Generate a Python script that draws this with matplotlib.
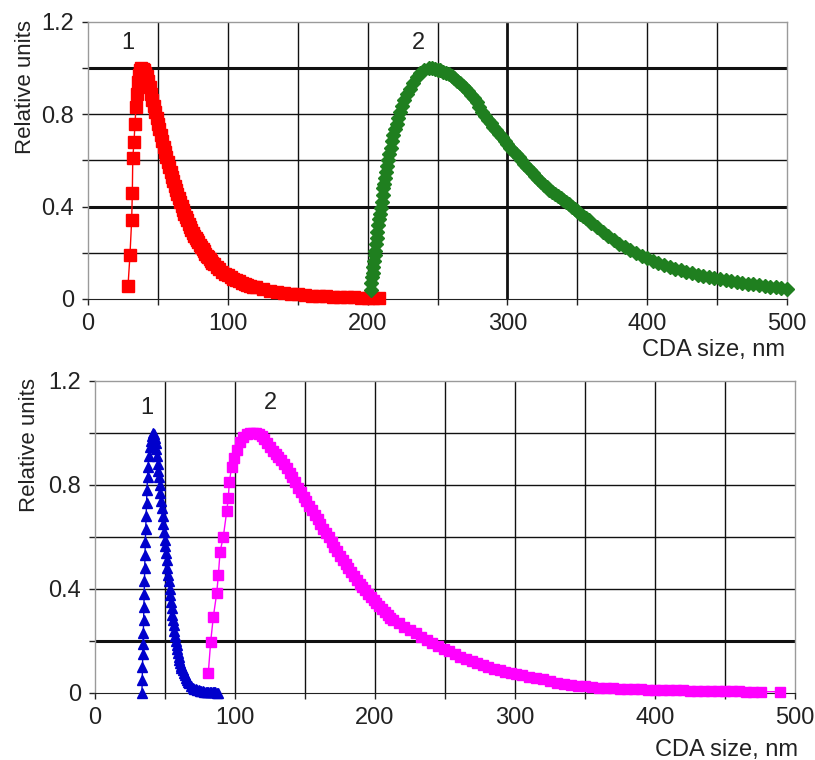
import numpy as np
import matplotlib
matplotlib.use("Agg")
import matplotlib.pyplot as plt

plt.rcParams['font.family'] = ['Liberation Sans', 'DejaVu Sans']

# --- upper panel: distributions 1 (red) and 2 (green) ---
red_x = [28.6, 30.0, 31.2, 31.7, 32.0, 32.9, 33.6, 34.3, 35.0, 35.7, 36.4, 37.2,
         38, 39, 40, 41, 42, 43, 44, 45, 46, 47, 48, 49, 50, 51, 52, 53, 54, 55,
         56, 57, 58, 59, 60, 61, 62, 63, 64, 65, 66, 67, 68, 69, 70, 71, 72, 73,
         74, 75, 76, 77, 78, 79, 80, 81, 82, 83, 84, 85, 86, 87, 88, 89, 90,
         92, 94, 96, 98, 100, 102, 104, 106, 108, 110, 112, 114, 116, 118, 120,
         125, 130, 135, 140, 145, 150, 155, 160, 165, 170, 175, 180, 185, 190,
         195, 200, 204, 208]
red_y = [0.056, 0.19, 0.34, 0.46, 0.61, 0.68, 0.76, 0.83, 0.89, 0.94, 0.97, 0.99,
         1.000, 0.998, 0.99, 0.98, 0.965, 0.945, 0.92, 0.89, 0.86, 0.835, 0.81,
         0.785, 0.76, 0.735, 0.71, 0.685, 0.66, 0.637, 0.615, 0.592, 0.57, 0.55,
         0.53, 0.51, 0.49, 0.472, 0.455, 0.437, 0.42, 0.402, 0.385, 0.37, 0.355,
         0.34, 0.325, 0.312, 0.30, 0.287, 0.275, 0.265, 0.255, 0.245, 0.235,
         0.225, 0.215, 0.206, 0.197, 0.188, 0.18, 0.172, 0.165, 0.158, 0.152,
         0.140, 0.129, 0.119, 0.110, 0.102, 0.095, 0.088, 0.082, 0.076, 0.071,
         0.066, 0.061, 0.057, 0.053, 0.050, 0.042, 0.036, 0.031, 0.027, 0.023,
         0.020, 0.017, 0.015, 0.013, 0.011, 0.010, 0.0085, 0.0075, 0.0065,
         0.0058, 0.0050, 0.0045, 0.004]

green_x = [202.3, 202.7, 203.1, 203.6, 204.1, 204.6, 205.0, 205.5, 206.0, 206.5,
           207.0, 207.6, 208.2, 208.9, 209.5, 210.1, 210.7, 211.3, 211.9, 212.5,
           213.1, 213.7, 214.6, 215.6, 216.4, 217.3, 218.4, 219.6, 220.8, 222.0,
           223.2, 224.4, 226.1, 228.0, 230.2, 232.7, 235.0, 237.5, 240.5,
           244, 246, 248, 250, 252, 254, 256, 258, 260, 262, 264, 266, 268, 270,
           272, 274, 276, 278, 280, 282, 284, 286, 288, 290, 292, 294, 296, 298,
           300, 302, 304, 306, 308, 310, 312, 314, 316, 318, 320, 322, 324, 326,
           328, 330, 332, 334, 336, 338, 340, 342, 344, 346, 348, 350, 352, 354,
           356, 358, 360, 364, 368, 372, 376, 380, 384, 388, 392, 396, 400, 404,
           408, 412, 416, 420, 424, 428, 432, 436, 440, 444, 448, 452, 456, 460,
           464, 468, 472, 476, 480, 484, 488, 492, 496, 500]
green_y = [0.04, 0.07, 0.095, 0.114, 0.14, 0.165, 0.19, 0.21, 0.24, 0.265,
           0.29, 0.32, 0.345, 0.37, 0.395, 0.42, 0.45, 0.48, 0.50, 0.525,
           0.55, 0.576, 0.60, 0.626, 0.655, 0.684, 0.71, 0.735, 0.76, 0.785,
           0.81, 0.835, 0.86, 0.886, 0.91, 0.936, 0.96, 0.98, 0.993,
           1.000, 0.999, 0.997, 0.994, 0.990, 0.985, 0.980, 0.973, 0.965, 0.956,
           0.946, 0.935, 0.924, 0.912, 0.899, 0.885, 0.871, 0.852, 0.832, 0.812,
           0.792, 0.776, 0.761, 0.745, 0.730, 0.715, 0.700, 0.685, 0.670, 0.655,
           0.641, 0.627, 0.613, 0.600, 0.586, 0.572, 0.559, 0.545, 0.532, 0.519,
           0.507, 0.495, 0.484, 0.473, 0.463, 0.455, 0.447, 0.439, 0.430, 0.420,
           0.410, 0.400, 0.390, 0.380, 0.370, 0.360, 0.350, 0.340, 0.330, 0.310,
           0.292, 0.274, 0.256, 0.240, 0.225, 0.211, 0.198, 0.187, 0.176, 0.166,
           0.157, 0.148, 0.140, 0.132, 0.124, 0.117, 0.111, 0.105, 0.099, 0.094,
           0.090, 0.086, 0.082, 0.077, 0.073, 0.069, 0.066, 0.063, 0.060, 0.057,
           0.054, 0.051, 0.048, 0.045]

# --- lower panel: distributions 1 (blue) and 2 (magenta) ---
blue_x = [33.5, 33.7, 33.9, 34.1, 34.3, 34.5, 34.7, 34.9, 35.1, 35.3, 35.5, 35.7,
          35.9, 36.2, 36.5, 36.8, 37.1, 37.5, 37.9, 38.4, 39.0, 39.7, 40.6, 41.7,
          42.2, 42.7, 43.2, 43.7, 44.2, 44.7, 45.2, 45.7, 46.2, 46.7, 47.2, 47.7,
          48.2, 48.7, 49.2, 49.7, 50.2, 50.7, 51.2, 51.7, 52.2, 52.7, 53.2, 53.7,
          54.2, 54.7, 55.2, 55.7, 56.2, 56.7, 57.2, 57.7, 58.2, 58.7, 59.2, 59.7,
          60.2, 60.7, 61.2, 61.7, 62.5, 63.3, 64.0, 64.8, 65.5, 66.3, 67.0, 68.5,
          70, 71, 72, 73, 74, 75, 76, 77, 78, 79, 80, 81, 82, 83, 84, 85, 86, 87, 88]
blue_y = [0.0, 0.05, 0.10, 0.15, 0.19, 0.23, 0.28, 0.33, 0.38, 0.43, 0.48, 0.53,
          0.58, 0.63, 0.68, 0.73, 0.78, 0.83, 0.87, 0.91, 0.945, 0.97, 0.99, 1.0,
          0.995, 0.98, 0.96, 0.94, 0.91, 0.88, 0.855, 0.83, 0.80, 0.77, 0.74, 0.71,
          0.68, 0.65, 0.62, 0.59, 0.565, 0.54, 0.51, 0.48, 0.455, 0.43, 0.40, 0.375,
          0.35, 0.325, 0.30, 0.28, 0.26, 0.24, 0.22, 0.20, 0.185, 0.17, 0.155, 0.14,
          0.127, 0.115, 0.105, 0.095, 0.088, 0.077, 0.068, 0.059, 0.05, 0.043,
          0.037, 0.027, 0.02, 0.017, 0.014, 0.012, 0.01, 0.008, 0.007, 0.006,
          0.005, 0.0045, 0.004, 0.0035, 0.003, 0.0025, 0.002, 0.002, 0.002,
          0.0015, 0.001]

magenta_x = [80.9, 82.6, 84.5, 86.9, 88.1, 89.3, 91.6, 94.1, 95.2, 95.9, 97.6,
             99.5, 101.2, 103.5, 105.9, 108.5, 111, 113, 115, 117, 119, 121, 123,
             125, 127, 129, 131, 133, 135, 137, 139, 141, 143, 145, 147, 149, 151,
             153, 155, 157, 159, 161, 163, 165, 167, 169, 171, 173, 175, 177, 179,
             181, 183, 185, 187, 189, 191, 193, 195, 197, 199, 201, 203, 205, 207,
             209, 211, 213, 217, 221, 225, 229, 233, 237, 241, 245, 249, 253, 257,
             261, 265, 269, 273, 277, 281, 285, 289, 293, 297, 301, 305, 310, 315,
             320, 325, 330, 335, 340, 345, 350, 355, 360, 365, 370, 375, 380, 385,
             390, 395, 400, 405, 410, 415, 420, 425, 430, 435, 440, 445, 450, 455,
             460, 465, 470, 476, 489]
magenta_y = [0.076, 0.197, 0.293, 0.383, 0.454, 0.543, 0.60, 0.70, 0.75, 0.81,
             0.87, 0.905, 0.935, 0.965, 0.986, 0.996, 1.0, 1.0, 0.999, 0.995,
             0.987, 0.975, 0.961, 0.945, 0.932, 0.92, 0.908, 0.895, 0.881, 0.865,
             0.848, 0.83, 0.81, 0.79, 0.772, 0.755, 0.738, 0.72, 0.702, 0.685,
             0.668, 0.65, 0.632, 0.615, 0.598, 0.58, 0.562, 0.545, 0.527, 0.51,
             0.495, 0.48, 0.465, 0.45, 0.435, 0.42, 0.407, 0.395, 0.382, 0.37,
             0.357, 0.345, 0.333, 0.322, 0.311, 0.30, 0.29, 0.282, 0.268, 0.255,
             0.242, 0.229, 0.216, 0.204, 0.193, 0.182, 0.171, 0.16, 0.149, 0.139,
             0.13, 0.122, 0.114, 0.106, 0.099, 0.093, 0.087, 0.082, 0.078, 0.074,
             0.069, 0.063, 0.057, 0.052, 0.046, 0.040, 0.035, 0.031, 0.028, 0.025,
             0.023, 0.021, 0.019, 0.018, 0.017, 0.016, 0.015, 0.014, 0.013, 0.012,
             0.011, 0.0105, 0.010, 0.0095, 0.009, 0.0085, 0.008, 0.0075, 0.007,
             0.0065, 0.006, 0.006, 0.0055, 0.005, 0.005, 0.005]

x_ticks = [0, 100, 200, 300, 400, 500]
y_ticks = [0, 0.4, 0.8, 1.2]

FS = 17


def setup_axes(ax, thick_y, thick_x):
    ax.set_xlim(0, 500)
    ax.set_ylim(0, 1.2)
    ax.set_xticks(np.arange(0, 501, 50))
    ax.set_xticklabels([str(v) if v in x_ticks else '' for v in range(0, 501, 50)])
    ax.set_yticks(np.arange(0, 1.21, 0.2))
    ax.set_yticklabels([('%g' % v) if any(abs(v - t) < 1e-6 for t in y_ticks) else ''
                        for v in np.arange(0, 1.21, 0.2)])
    ax.tick_params(labelsize=FS, direction='out', length=4, width=1,
                   colors='#222222', pad=6)
    for v in np.arange(50, 500, 50):
        lw = 2.0 if v in thick_x else 1.0
        ax.axvline(v, color='#111111', lw=lw, zorder=0)
    for v in np.arange(0.2, 1.2, 0.2):
        lw = 2.2 if any(abs(v - t) < 1e-6 for t in thick_y) else 1.0
        ax.axhline(v, color='#111111', lw=lw, zorder=0)
    for s in ['top', 'right', 'left']:
        ax.spines[s].set_color('#9a9a9a')
        ax.spines[s].set_linewidth(1.0)
    ax.spines['bottom'].set_color('#222222')


fig = plt.figure(figsize=(8.15, 7.6), dpi=100)

ax1 = fig.add_axes([0.108, 0.6066, 0.8577, 0.3645])
setup_axes(ax1, thick_y=[1.0, 0.4], thick_x=[300])
ax1.plot(red_x, red_y, color='#ff0000', marker='s', ms=8, lw=1,
         mec='#ff0000', zorder=3, clip_on=False)
ax1.plot(green_x, green_y, color='#1f7f1f', marker='D', ms=6.8, lw=1,
         mec='#1f7f1f', zorder=3, clip_on=False)
ax1.text(28.6, 1.11, '1', fontsize=FS, ha='center', va='center', color='#222222')
ax1.text(236, 1.11, '2', fontsize=FS, ha='center', va='center', color='#222222')

ax2 = fig.add_axes([0.1166, 0.0882, 0.8589, 0.4105])
setup_axes(ax2, thick_y=[0.2], thick_x=[])
ax2.plot(blue_x, blue_y, color='#0000cc', marker='^', ms=7.8, lw=1,
         mec='#0000cc', zorder=3, clip_on=False)
ax2.plot(magenta_x, magenta_y, color='#ff00ff', marker='s', ms=7.8, lw=1,
         mec='#ff00ff', zorder=3, clip_on=False)
ax2.text(37, 1.096, '1', fontsize=FS, ha='center', va='center', color='#222222')
ax2.text(125, 1.115, '2', fontsize=FS, ha='center', va='center', color='#222222')

fig.text(0.0307, 0.8855, 'Relative units', rotation=90, fontsize=FS - 1,
         ha='center', va='center', color='#222222')
fig.text(0.036, 0.4145, 'Relative units', rotation=90, fontsize=FS - 1,
         ha='center', va='center', color='#222222')
fig.text(0.9632, 0.5395, 'CDA size, nm', fontsize=FS, ha='right', va='center',
         color='#222222')
fig.text(0.9791, 0.0132, 'CDA size, nm', fontsize=FS, ha='right', va='center',
         color='#222222')

fig.savefig('out.png', dpi=100, facecolor='white')
